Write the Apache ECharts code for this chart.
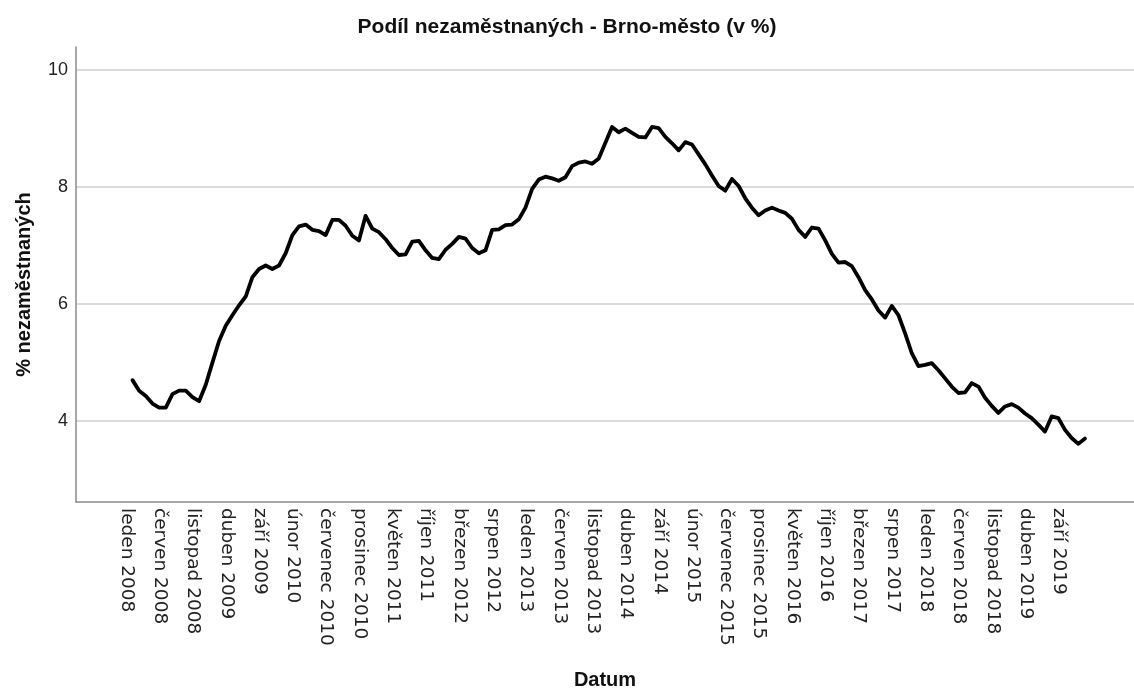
<!DOCTYPE html>
<html>
<head>
<meta charset="utf-8">
<title>Podíl nezaměstnaných - Brno-město</title>
<script src="https://cdn.jsdelivr.net/npm/echarts@6/dist/echarts.min.js"></script>
<style>
  html, body { margin: 0; padding: 0; background: #fff; }
  #chart { width: 1134px; height: 695px; }
</style>
</head>
<body>
<div id="chart"></div>
<script>
// months of the series, one value per month from leden 2008 to prosinec 2019
let monthNames = ['leden', 'únor', 'březen', 'duben', 'květen', 'červen',
  'červenec', 'srpen', 'září', 'říjen', 'listopad', 'prosinec']
let firstYear = 2008
let lastYear = 2019

// % nezaměstnaných
let values = [
  4.70, 4.52, 4.43, 4.30, 4.23, 4.23, 4.46, 4.52, 4.52, 4.41, 4.34, 4.62,
  5.00, 5.37, 5.63, 5.81, 5.98, 6.13, 6.46, 6.60, 6.66, 6.60, 6.66, 6.87,
  7.18, 7.33, 7.36, 7.27, 7.25, 7.18, 7.44, 7.44, 7.34, 7.17, 7.09, 7.51,
  7.29, 7.23, 7.11, 6.96, 6.84, 6.85, 7.07, 7.08, 6.92, 6.79, 6.77, 6.93,
  7.03, 7.15, 7.12, 6.96, 6.87, 6.92, 7.27, 7.28, 7.35, 7.36, 7.45, 7.65,
  7.97, 8.13, 8.18, 8.15, 8.11, 8.17, 8.36, 8.42, 8.44, 8.40, 8.49, 8.76,
  9.03, 8.94, 9.00, 8.93, 8.86, 8.85, 9.03, 9.01, 8.86, 8.75, 8.63, 8.77,
  8.73, 8.56, 8.39, 8.20, 8.02, 7.94, 8.14, 8.02, 7.81, 7.65, 7.52, 7.60,
  7.65, 7.60, 7.56, 7.46, 7.27, 7.15, 7.31, 7.29, 7.09, 6.86, 6.71, 6.72,
  6.65, 6.46, 6.24, 6.08, 5.89, 5.77, 5.97, 5.81, 5.50, 5.16, 4.94, 4.96,
  4.99, 4.87, 4.73, 4.59, 4.48, 4.49, 4.65, 4.59, 4.40, 4.26, 4.14, 4.25,
  4.29, 4.23, 4.13, 4.05, 3.94, 3.82, 4.08, 4.05, 3.85, 3.71, 3.61, 3.70
]

// tick labels: every 5th month, y grid at these values
let labelStep = 5
let yTicks = [4, 6, 8, 10]

let dates = []
for (let y = firstYear; y <= lastYear; y++) {
  monthNames.forEach(function (m) {
    dates.push(m + ' ' + y)
  })
}

let labelValues = []
for (let i = 0; i < dates.length; i += labelStep) {
  labelValues.push(i)
}

let font = 'Liberation Sans, Arial, sans-serif'

let chart = echarts.init(document.getElementById('chart'), null, { renderer: 'canvas' })

chart.setOption({
  animation: false,
  backgroundColor: '#fff',
  title: {
    text: 'Podíl nezaměstnaných - Brno-město (v %)',
    left: 'center',
    top: 12,
    textStyle: { fontFamily: font, fontSize: 21, fontWeight: 'bold', color: '#111' }
  },
  grid: { left: 76, right: 0, top: 47, bottom: 191, containLabel: false },
  xAxis: {
    type: 'value',
    min: -8.48,
    max: 150.36,
    name: 'Datum',
    nameLocation: 'middle',
    nameGap: 168,
    nameTextStyle: { fontFamily: font, fontSize: 20, fontWeight: 'bold', color: '#111' },
    axisLine: { show: true, onZero: false, lineStyle: { color: '#8a8a8a', width: 1.5 } },
    axisTick: { show: false, customValues: labelValues },
    splitLine: { show: false },
    axisLabel: {
      customValues: labelValues,
      rotate: -90,
      margin: 6,
      verticalAlign: 'top',
      lineHeight: 12,
      fontFamily: 'DejaVu Sans, sans-serif',
      fontSize: 18.5,
      color: '#222',
      formatter: function (v) {
        return dates[Math.round(v)] || ''
      }
    }
  },
  yAxis: {
    type: 'value',
    min: 2.616,
    max: 10.397,
    name: '% nezaměstnaných',
    nameLocation: 'middle',
    nameGap: 42,
    nameTextStyle: { fontFamily: font, fontSize: 20, fontWeight: 'bold', color: '#111', padding: [0, 20, 0, 0] },
    axisLine: { show: true, onZero: false, lineStyle: { color: '#8a8a8a', width: 1.5 } },
    axisTick: { show: false, customValues: yTicks },
    splitLine: { show: true, lineStyle: { color: '#cfcfcf', width: 1.5 } },
    axisLabel: {
      customValues: yTicks,
      margin: 8,
      fontFamily: 'Liberation Sans Narrow, Liberation Sans, Arial, sans-serif',
      fontSize: 18,
      color: '#222'
    }
  },
  series: [{
    type: 'line',
    data: values.map(function (v, i) { return [i, v] }),
    showSymbol: false,
    lineStyle: { color: '#000', width: 3.8, join: 'round', cap: 'round' }
  }]
})
</script>
</body>
</html>
